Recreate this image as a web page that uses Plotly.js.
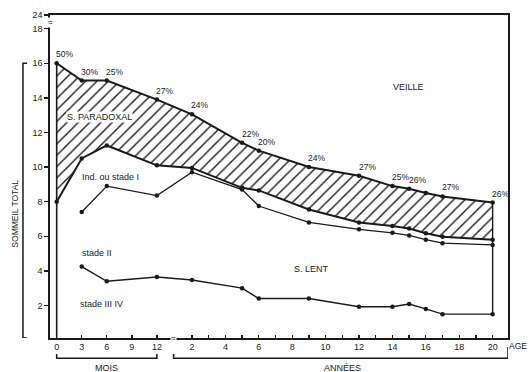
<!DOCTYPE html>
<html>
<head>
<meta charset="utf-8">
<script src="https://cdn.plot.ly/plotly-3.0.1.min.js"></script>
<style>html,body{margin:0;padding:0;background:#fff;}#chart{width:531px;height:372px;}</style>
</head>
<body>
<div id="chart"></div>
<script>
// ---- Data (hours of sleep per 24 h) ----
const agesMois = [0, 3, 6, 12];                                // ages in months
const agesAnnees = [2, 5, 6, 9, 12, 14, 15, 16, 17, 20];       // ages in years
const sommeilTotal = [16.0, 15.0, 15.0, 13.9, 13.05, 11.4, 10.95, 10.0, 9.5, 8.9, 8.75, 8.5, 8.3, 7.95];
const limiteParadoxal = [8.0, 10.5, 11.25, 10.1, 9.95, 8.8, 8.65, 7.55, 6.8, 6.6, 6.45, 6.17, 5.97, 5.8];
const stadeII = [null, 7.4, 8.9, 8.35, 9.7, 8.7, 7.75, 6.8, 6.4, 6.2, 6.05, 5.8, 5.6, 5.5];
const stadeIIIIV = [null, 4.25, 3.4, 3.65, 3.47, 3.0, 2.4, 2.4, 1.93, 1.93, 2.08, 1.8, 1.5, 1.5];
const pourcentParadoxal = ['50%','30%','25%','27%','24%','22%','20%','24%','27%','25%','26%','','27%','26%'];

// ---- Tick labels ----
const moisTicks = [0, 3, 6, 9, 12];
const anneesTicks = [2, 3, 4, 5, 6, 7, 8, 9, 10, 11, 12, 13, 14, 15, 16, 17, 18, 19, 20];
const anneesLabels = ['2','','4','','6','','8','','10','','12','','14','','16','','18','','20'];
const yTicks = [2, 4, 6, 8, 10, 12, 14, 16, 18];
const yLabels = ['2', '4', '6', '8', '10', '12', '14', '16', '18'];
const yBreakLabel = '24';

// ---- Broken age scale: months on the left, years on the right ----
const moisPos = m => m / 2;
const anneePos = a => a + 6.1;
const yTop = 18.79;   // top of axis, after the break, labelled 24
const xs = agesMois.map(moisPos).concat(agesAnnees.map(anneePos));
const xLast = xs[xs.length - 1];

const FONT = 'Liberation Sans, Arial, sans-serif';
const INK = '#1a1a1a';
const mk = {color: INK, size: 4.5};

const traces = [
  {x: xs, y: limiteParadoxal, mode: 'lines+markers', line: {color: INK, width: 2}, marker: mk},
  {x: xs, y: sommeilTotal, mode: 'lines+markers', line: {color: INK, width: 2}, marker: mk,
   fill: 'tonexty', fillcolor: 'rgba(0,0,0,0)',
   fillpattern: {shape: '/', fgcolor: INK, bgcolor: 'white', size: 8, solidity: 0.17}},
  {x: xs, y: stadeII, mode: 'lines+markers', line: {color: INK, width: 1.3}, marker: mk},
  {x: xs, y: stadeIIIIV, mode: 'lines+markers', line: {color: INK, width: 1.4}, marker: mk},
  {x: [xs[0], xs[0]], y: [0, sommeilTotal[0]], mode: 'lines', line: {color: INK, width: 1.6}},
  {x: [xLast, xLast], y: [stadeIIIIV[stadeIIIIV.length - 1], sommeilTotal[sommeilTotal.length - 1]],
   mode: 'lines', line: {color: INK, width: 1.4}}
];

const annotations = [];
xs.forEach((x, i) => {
  if (pourcentParadoxal[i]) annotations.push({x: x, y: sommeilTotal[i], text: pourcentParadoxal[i],
    showarrow: false, xshift: 8, yshift: 9, font: {family: FONT, size: 8.5, color: INK}});
});
const lab = (x, y, text, xanchor, extra) => Object.assign({x: x, y: y, text: text, showarrow: false,
  xanchor: xanchor || 'center', yanchor: 'middle', font: {family: FONT, size: 9, color: INK}}, extra || {});
annotations.push(
  lab(21.05, 14.65, 'VEILLE'),
  lab(0.56, 12.9, 'S. PARADOXAL', 'left', {bgcolor: 'white', borderpad: 0}),
  lab(1.4, 9.45, 'Ind. ou stade I', 'left'),
  lab(1.4, 5.02, 'stade II', 'left'),
  lab(1.26, 2.09, 'stade III IV', 'left'),
  lab(15.27, 4.09, 'S. LENT'),
  lab(3.0, -0.093, 'MOIS', 'center', {yref: 'paper'}),
  lab(17.1, -0.093, 'ANNÉES', 'center', {yref: 'paper'}),
  lab(1.046, -0.024, 'AGE', 'right', {xref: 'paper', yref: 'paper', font: {family: FONT, size: 8.5, color: INK}}),
  lab(-0.0764, 0.385, 'SOMMEIL TOTAL', 'center', {xref: 'paper', yref: 'paper', textangle: -90, font: {family: FONT, size: 8.5, color: INK}}),
  lab(6.98, 0, '≈', 'center', {yref: 'paper', bgcolor: 'white', borderpad: 0, font: {family: FONT, size: 8, color: INK}}),
  lab(0, 0.978, '≈', 'center', {xref: 'paper', yref: 'paper', bgcolor: 'white', borderpad: 0, font: {family: FONT, size: 8, color: INK}})
);

const shapes = [
  {type: 'path', xref: 'x', yref: 'paper', line: {color: INK, width: 1.5},
   path: `M ${moisPos(0)},-0.0495 L ${moisPos(0)},-0.0628 L ${moisPos(12)},-0.0628 L ${moisPos(12)},-0.0495`},
  {type: 'path', xref: 'x', yref: 'paper', line: {color: INK, width: 1.5},
   path: `M ${anneePos(1) - 0.1},-0.0495 L ${anneePos(1) - 0.1},-0.0628 L 27.02,-0.0628 L 27.02,-0.028`},
  {type: 'path', xref: 'paper', yref: 'y', line: {color: INK, width: 1.5},
   path: `M -0.050,${sommeilTotal[0]} L -0.059,${sommeilTotal[0]} L -0.059,0.12 L -0.050,0.12`}
];

const layout = {
  width: 531, height: 372,
  margin: {l: 50, r: 23, t: 15, b: 34, pad: 0},
  paper_bgcolor: 'white', plot_bgcolor: 'white',
  showlegend: false,
  font: {family: FONT, size: 9, color: INK},
  xaxis: {
    range: [-0.40, 27.02], showgrid: false, zeroline: false,
    showline: true, linecolor: INK, linewidth: 1.6, mirror: true,
    ticks: 'inside', ticklen: 3, tickwidth: 1.3, tickcolor: INK,
    tickvals: moisTicks.map(moisPos).concat(anneesTicks.map(anneePos)),
    ticktext: moisTicks.map(String).concat(anneesLabels),
    tickfont: {family: FONT, size: 9, color: INK}
  },
  yaxis: {
    range: [0.12, yTop], showgrid: false, zeroline: false,
    showline: true, linecolor: INK, linewidth: 1.6, mirror: true,
    ticks: 'outside', ticklen: 4, tickwidth: 1.3, tickcolor: INK,
    tickvals: yTicks.concat([yTop]), ticktext: yLabels.concat([yBreakLabel]),
    tickfont: {family: FONT, size: 9, color: INK}
  },
  annotations: annotations,
  shapes: shapes
};

Plotly.newPlot('chart', traces, layout, {staticPlot: true, displayModeBar: false});
</script>
</body>
</html>
